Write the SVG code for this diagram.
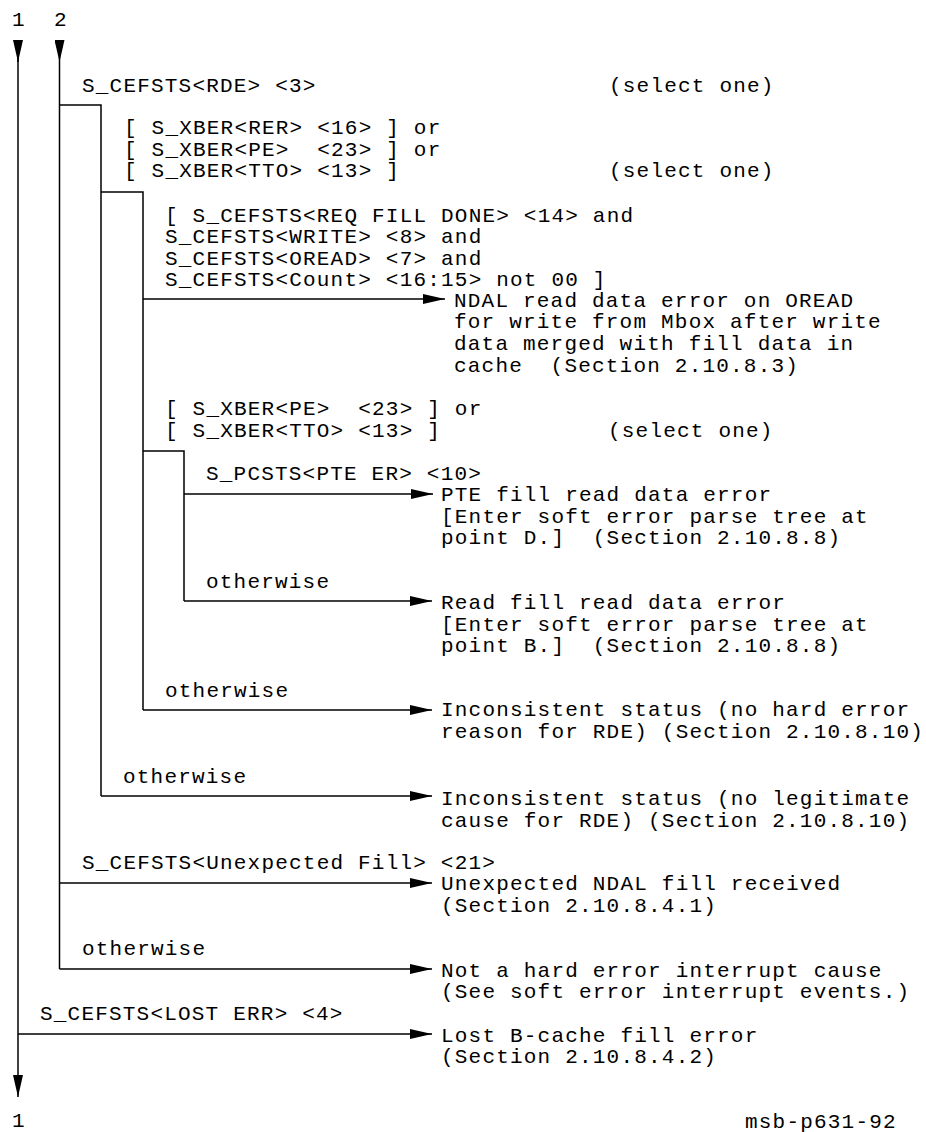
<svg xmlns="http://www.w3.org/2000/svg" width="926" height="1132" viewBox="0 0 926 1132" xml:space="preserve">
<style>
text { font-family: "Liberation Mono", "Courier New", monospace; font-size: 21px; letter-spacing: 1.2px; fill: #000; white-space: pre; }
.ln { fill: none; stroke: #000; stroke-width: 1.5; }
.ar { fill: none; stroke: #000; stroke-width: 1.5; marker-end: url(#ah); }
</style>
<defs>
<marker id="ah" markerUnits="userSpaceOnUse" viewBox="0 0 22 10" refX="22" refY="5" markerWidth="22" markerHeight="10" orient="auto">
<path d="M0,0 L22,5 L0,10 Z" fill="#000"/>
</marker>
</defs>
<rect width="926" height="1132" fill="#fff"/>
<g id="connectors">
<path class="ar" d="M18,40 L18,62"/>
<path class="ar" d="M59.5,40 L59.5,62"/>
<path class="ar" d="M18,40 L18,1097"/>
<path class="ar" d="M18,1034 L432,1034"/>
<path class="ln" d="M59.5,62 L59.5,969"/>
<path class="ln" d="M59.5,105 L101,105 L101,796"/>
<path class="ar" d="M59.5,883 L432,883"/>
<path class="ar" d="M59.5,969 L432,969"/>
<path class="ln" d="M101,192 L143,192 L143,710"/>
<path class="ar" d="M101,796 L432,796"/>
<path class="ar" d="M143,299 L445,299"/>
<path class="ln" d="M143,451 L184,451 L184,601"/>
<path class="ar" d="M143,710 L432,710"/>
<path class="ar" d="M184,494 L433,494"/>
<path class="ar" d="M184,601 L432,601"/>
</g>
<g id="entry-labels">
<text x="12" y="26">1</text>
<text x="54" y="26">2</text>
</g>
<g id="cond-rde">
<text x="82" y="92">S_CEFSTS&lt;RDE&gt; &lt;3&gt;</text>
<text x="609" y="92">(select one)</text>
</g>
<g id="cond-xber">
<text x="124" y="134">[ S_XBER&lt;RER&gt; &lt;16&gt; ] or</text>
<text x="124" y="156">[ S_XBER&lt;PE&gt;  &lt;23&gt; ] or</text>
<text x="124" y="177">[ S_XBER&lt;TTO&gt; &lt;13&gt; ]</text>
<text x="609" y="177">(select one)</text>
</g>
<g id="cond-reqfill">
<text x="165" y="222">[ S_CEFSTS&lt;REQ FILL DONE&gt; &lt;14&gt; and</text>
<text x="165" y="243">S_CEFSTS&lt;WRITE&gt; &lt;8&gt; and</text>
<text x="165" y="265">S_CEFSTS&lt;OREAD&gt; &lt;7&gt; and</text>
<text x="165" y="286">S_CEFSTS&lt;Count&gt; &lt;16:15&gt; not 00 ]</text>
</g>
<g id="res-ndal">
<text x="454" y="307">NDAL read data error on OREAD</text>
<text x="454" y="328">for write from Mbox after write</text>
<text x="454" y="350">data merged with fill data in</text>
<text x="454" y="372">cache  (Section 2.10.8.3)</text>
</g>
<g id="cond-xber2">
<text x="165" y="415">[ S_XBER&lt;PE&gt;  &lt;23&gt; ] or</text>
<text x="165" y="437">[ S_XBER&lt;TTO&gt; &lt;13&gt; ]</text>
<text x="608" y="437">(select one)</text>
</g>
<g id="cond-pte">
<text x="206" y="480">S_PCSTS&lt;PTE ER&gt; &lt;10&gt;</text>
</g>
<g id="res-pte">
<text x="441" y="501">PTE fill read data error</text>
<text x="441" y="523">[Enter soft error parse tree at</text>
<text x="441" y="544">point D.]  (Section 2.10.8.8)</text>
</g>
<g id="cond-otherwise1">
<text x="206" y="588">otherwise</text>
</g>
<g id="res-readfill">
<text x="441" y="609">Read fill read data error</text>
<text x="441" y="631">[Enter soft error parse tree at</text>
<text x="441" y="652">point B.]  (Section 2.10.8.8)</text>
</g>
<g id="cond-otherwise2">
<text x="165" y="697">otherwise</text>
</g>
<g id="res-inconsistent1">
<text x="441" y="716">Inconsistent status (no hard error</text>
<text x="441" y="738">reason for RDE) (Section 2.10.8.10)</text>
</g>
<g id="cond-otherwise3">
<text x="123" y="783">otherwise</text>
</g>
<g id="res-inconsistent2">
<text x="441" y="805">Inconsistent status (no legitimate</text>
<text x="441" y="827">cause for RDE) (Section 2.10.8.10)</text>
</g>
<g id="cond-unexpected">
<text x="82" y="869">S_CEFSTS&lt;Unexpected Fill&gt; &lt;21&gt;</text>
</g>
<g id="res-unexpected">
<text x="441" y="890">Unexpected NDAL fill received</text>
<text x="441" y="912">(Section 2.10.8.4.1)</text>
</g>
<g id="cond-otherwise4">
<text x="82" y="955">otherwise</text>
</g>
<g id="res-nothard">
<text x="441" y="977">Not a hard error interrupt cause</text>
<text x="441" y="998">(See soft error interrupt events.)</text>
</g>
<g id="cond-lost">
<text x="40" y="1020">S_CEFSTS&lt;LOST ERR&gt; &lt;4&gt;</text>
</g>
<g id="res-lost">
<text x="441" y="1042">Lost B-cache fill error</text>
<text x="441" y="1063">(Section 2.10.8.4.2)</text>
</g>
<g id="exit-label">
<text x="12" y="1127">1</text>
</g>
<g id="figure-id">
<text x="745" y="1128">msb-p631-92</text>
</g>
</svg>
